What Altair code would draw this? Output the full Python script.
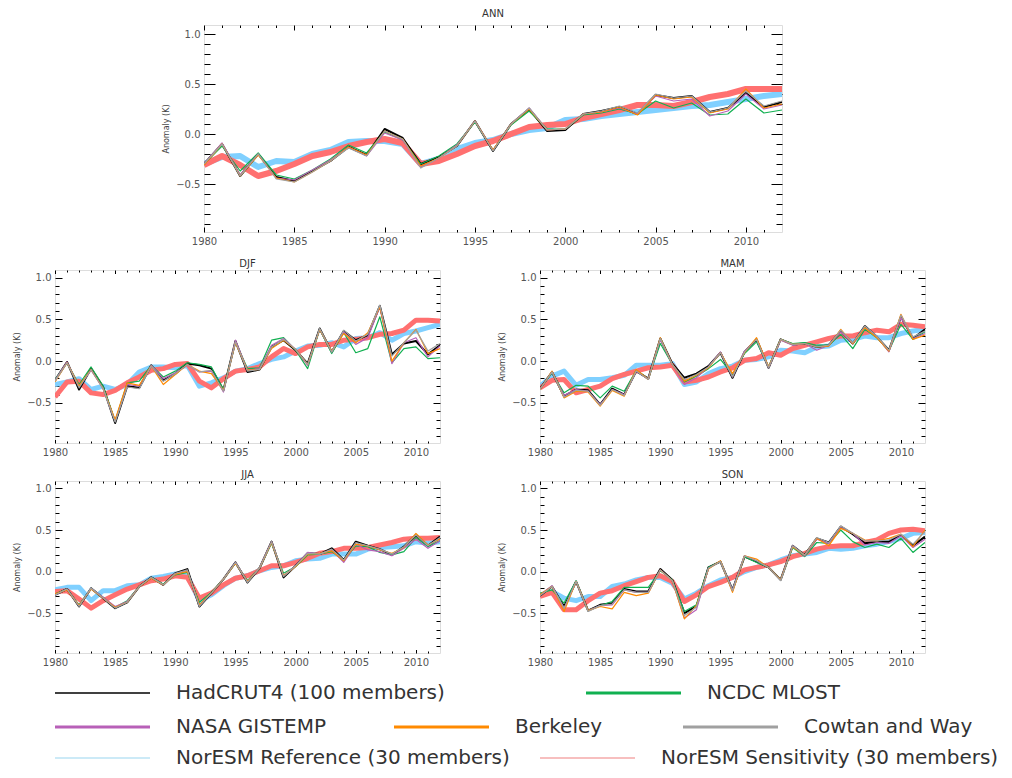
import altair as alt
import pandas as pd

YEARS = list(range(1980, 2013))

# ---------------- ANN ----------------
ANN_HADCRUT4 = [-0.30,-0.10,-0.42,-0.20,-0.43,-0.47,-0.37,-0.27,-0.13,-0.21,0.05,-0.04,-0.30,-0.23,-0.12,0.13,-0.17,0.10,0.25,0.03,0.04,0.20,0.23,0.27,0.20,0.39,0.36,0.38,0.22,0.26,0.41,0.27,0.32]
ANN_NCDC = [-0.30,-0.12,-0.37,-0.19,-0.41,-0.45,-0.36,-0.25,-0.11,-0.19,0.02,-0.06,-0.30,-0.22,-0.10,0.12,-0.16,0.09,0.23,0.05,0.05,0.19,0.21,0.25,0.20,0.33,0.26,0.31,0.19,0.20,0.35,0.21,0.24]
ANN_GISS = [-0.30,-0.09,-0.41,-0.20,-0.44,-0.46,-0.36,-0.26,-0.13,-0.22,0.01,-0.06,-0.33,-0.24,-0.11,0.13,-0.16,0.10,0.26,0.04,0.05,0.20,0.22,0.26,0.20,0.38,0.33,0.35,0.18,0.23,0.40,0.25,0.29]
ANN_BERK = [-0.31,-0.10,-0.42,-0.21,-0.44,-0.48,-0.38,-0.27,-0.13,-0.21,0.03,-0.05,-0.32,-0.24,-0.12,0.13,-0.16,0.10,0.25,0.04,0.05,0.20,0.22,0.27,0.19,0.39,0.35,0.37,0.21,0.25,0.45,0.26,0.30]
ANN_CW = [-0.30,-0.10,-0.42,-0.20,-0.45,-0.48,-0.38,-0.27,-0.14,-0.22,0.03,-0.05,-0.34,-0.24,-0.12,0.13,-0.17,0.10,0.26,0.04,0.05,0.20,0.23,0.28,0.21,0.40,0.36,0.38,0.22,0.26,0.43,0.28,0.33]
ANN_REF = [-0.30,-0.23,-0.22,-0.33,-0.27,-0.28,-0.20,-0.16,-0.08,-0.07,-0.07,-0.10,-0.30,-0.25,-0.15,-0.09,-0.06,0.00,0.04,0.06,0.14,0.15,0.18,0.20,0.22,0.24,0.26,0.28,0.29,0.32,0.35,0.38,0.40]
ANN_SENS = [-0.31,-0.22,-0.31,-0.42,-0.37,-0.30,-0.22,-0.18,-0.12,-0.08,-0.05,-0.09,-0.30,-0.27,-0.20,-0.12,-0.07,0.00,0.07,0.09,0.10,0.16,0.20,0.24,0.29,0.29,0.28,0.32,0.37,0.40,0.45,0.45,0.45]

# ---------------- DJF ----------------
DJF_HADCRUT4 = [-0.23,-0.01,-0.34,-0.09,-0.31,-0.74,-0.30,-0.32,-0.05,-0.23,-0.15,-0.03,-0.05,-0.09,-0.35,0.24,-0.13,-0.10,0.17,0.25,0.13,-0.03,0.39,0.11,0.36,0.25,0.31,0.66,0.08,0.21,0.24,0.08,0.19]
DJF_NCDC = [-0.22,-0.02,-0.28,-0.07,-0.30,-0.72,-0.26,-0.24,-0.05,-0.19,-0.12,-0.02,-0.04,-0.07,-0.34,0.23,-0.09,-0.08,0.25,0.28,0.13,-0.09,0.38,0.09,0.34,0.10,0.15,0.53,-0.02,0.15,0.17,0.03,0.04]
DJF_GISS = [-0.23,-0.01,-0.30,-0.11,-0.33,-0.72,-0.28,-0.30,-0.05,-0.21,-0.14,-0.05,-0.13,-0.12,-0.37,0.25,-0.11,-0.09,0.19,0.27,0.14,-0.05,0.38,0.11,0.35,0.20,0.28,0.65,-0.03,0.22,0.28,0.05,0.18]
DJF_BERK = [-0.25,-0.02,-0.30,-0.10,-0.33,-0.70,-0.26,-0.29,-0.06,-0.28,-0.16,-0.04,-0.12,-0.15,-0.35,0.22,-0.11,-0.10,0.15,0.25,0.14,-0.04,0.38,0.12,0.33,0.22,0.34,0.65,0.00,0.22,0.38,0.09,0.15]
DJF_CW = [-0.24,-0.02,-0.32,-0.10,-0.33,-0.73,-0.31,-0.33,-0.06,-0.24,-0.15,-0.04,-0.13,-0.11,-0.36,0.23,-0.12,-0.10,0.17,0.26,0.14,-0.04,0.39,0.11,0.37,0.24,0.32,0.67,0.06,0.22,0.37,0.12,0.21]
DJF_REF = [-0.28,-0.25,-0.21,-0.34,-0.30,-0.34,-0.28,-0.13,-0.07,-0.07,-0.08,-0.05,-0.30,-0.26,-0.20,-0.12,-0.09,-0.03,0.02,0.05,0.12,0.18,0.19,0.22,0.17,0.27,0.28,0.34,0.25,0.33,0.36,0.40,0.44]
DJF_SENS = [-0.43,-0.25,-0.24,-0.38,-0.40,-0.35,-0.26,-0.19,-0.11,-0.09,-0.04,-0.03,-0.24,-0.32,-0.21,-0.12,-0.10,-0.07,0.05,0.15,0.09,0.17,0.20,0.20,0.25,0.26,0.28,0.32,0.33,0.37,0.49,0.49,0.48]

# ---------------- MAM ----------------
MAM_HADCRUT4 = [-0.33,-0.13,-0.42,-0.34,-0.35,-0.52,-0.33,-0.40,-0.12,-0.21,0.27,-0.03,-0.20,-0.15,-0.06,0.10,-0.20,0.11,0.26,-0.08,0.26,0.20,0.21,0.17,0.19,0.36,0.21,0.42,0.29,0.13,0.53,0.27,0.38]
MAM_NCDC = [-0.33,-0.14,-0.38,-0.29,-0.30,-0.44,-0.30,-0.36,-0.11,-0.21,0.21,-0.04,-0.25,-0.18,-0.09,0.02,-0.16,0.09,0.23,-0.07,0.26,0.21,0.22,0.19,0.19,0.32,0.15,0.38,0.28,0.12,0.44,0.26,0.35]
MAM_GISS = [-0.33,-0.13,-0.41,-0.34,-0.36,-0.52,-0.34,-0.40,-0.12,-0.21,0.26,-0.04,-0.28,-0.20,-0.07,0.11,-0.19,0.12,0.26,-0.08,0.25,0.19,0.21,0.13,0.19,0.35,0.21,0.40,0.29,0.11,0.52,0.27,0.33]
MAM_BERK = [-0.34,-0.12,-0.44,-0.36,-0.37,-0.54,-0.35,-0.42,-0.10,-0.22,0.28,-0.04,-0.24,-0.17,-0.08,0.10,-0.15,0.10,0.28,-0.07,0.26,0.20,0.21,0.17,0.18,0.38,0.21,0.40,0.28,0.12,0.56,0.26,0.31]
MAM_CW = [-0.34,-0.13,-0.43,-0.35,-0.36,-0.53,-0.34,-0.41,-0.12,-0.22,0.27,-0.04,-0.22,-0.16,-0.07,0.10,-0.19,0.11,0.26,-0.08,0.26,0.20,0.21,0.17,0.19,0.37,0.22,0.42,0.30,0.13,0.55,0.29,0.36]
MAM_REF = [-0.30,-0.18,-0.12,-0.29,-0.22,-0.22,-0.20,-0.17,-0.05,-0.05,-0.05,-0.03,-0.28,-0.25,-0.15,-0.09,-0.06,0.01,0.02,0.05,0.13,0.12,0.10,0.17,0.18,0.25,0.26,0.30,0.28,0.28,0.33,0.36,0.38]
MAM_SENS = [-0.32,-0.23,-0.22,-0.38,-0.34,-0.30,-0.21,-0.16,-0.12,-0.08,-0.07,-0.05,-0.25,-0.23,-0.19,-0.13,-0.08,0.01,0.03,0.10,0.07,0.15,0.19,0.23,0.27,0.30,0.30,0.34,0.37,0.35,0.44,0.43,0.41]

# ---------------- JJA ----------------
JJA_HADCRUT4 = [-0.28,-0.21,-0.42,-0.20,-0.32,-0.44,-0.37,-0.18,-0.07,-0.16,-0.02,0.03,-0.42,-0.26,-0.09,0.11,-0.13,0.04,0.36,-0.07,0.07,0.22,0.21,0.28,0.14,0.36,0.31,0.27,0.20,0.30,0.44,0.31,0.42]
JJA_NCDC = [-0.27,-0.21,-0.40,-0.20,-0.31,-0.43,-0.35,-0.18,-0.07,-0.15,-0.04,-0.01,-0.37,-0.25,-0.09,0.10,-0.11,0.05,0.34,-0.02,0.06,0.20,0.21,0.24,0.13,0.31,0.30,0.23,0.20,0.24,0.41,0.30,0.37]
JJA_GISS = [-0.28,-0.21,-0.41,-0.20,-0.31,-0.42,-0.36,-0.18,-0.07,-0.16,-0.03,0.01,-0.41,-0.26,-0.09,0.11,-0.12,0.05,0.36,-0.05,0.07,0.23,0.21,0.26,0.11,0.33,0.26,0.24,0.19,0.28,0.39,0.28,0.37]
JJA_BERK = [-0.27,-0.22,-0.41,-0.21,-0.32,-0.43,-0.37,-0.18,-0.08,-0.16,-0.03,0.00,-0.40,-0.26,-0.09,0.10,-0.12,0.04,0.35,-0.05,0.06,0.21,0.22,0.25,0.13,0.33,0.31,0.26,0.22,0.29,0.46,0.32,0.39]
JJA_CW = [-0.28,-0.21,-0.42,-0.20,-0.32,-0.44,-0.37,-0.18,-0.07,-0.16,-0.02,0.02,-0.42,-0.26,-0.09,0.11,-0.13,0.04,0.36,-0.06,0.07,0.22,0.21,0.27,0.14,0.35,0.31,0.27,0.21,0.30,0.44,0.31,0.41]
JJA_REF = [-0.22,-0.19,-0.19,-0.35,-0.23,-0.23,-0.17,-0.16,-0.08,-0.06,-0.03,-0.05,-0.35,-0.28,-0.17,-0.08,-0.05,0.01,0.05,0.07,0.13,0.15,0.16,0.21,0.21,0.21,0.27,0.29,0.30,0.31,0.36,0.34,0.36]
JJA_SENS = [-0.24,-0.23,-0.33,-0.44,-0.35,-0.28,-0.21,-0.16,-0.11,-0.09,-0.05,-0.07,-0.32,-0.26,-0.16,-0.08,-0.05,0.01,0.07,0.07,0.11,0.16,0.22,0.24,0.28,0.28,0.29,0.32,0.35,0.39,0.40,0.40,0.41]

# ---------------- SON ----------------
SON_HADCRUT4 = [-0.29,-0.18,-0.42,-0.12,-0.47,-0.40,-0.38,-0.21,-0.24,-0.24,0.03,-0.10,-0.50,-0.42,0.05,0.12,-0.22,0.18,0.12,0.05,-0.10,0.31,0.20,0.40,0.35,0.54,0.45,0.34,0.36,0.36,0.44,0.31,0.42]
SON_NCDC = [-0.26,-0.22,-0.38,-0.11,-0.47,-0.41,-0.36,-0.19,-0.19,-0.19,0.01,-0.10,-0.48,-0.40,0.05,0.12,-0.22,0.18,0.11,0.05,-0.10,0.29,0.18,0.35,0.34,0.50,0.36,0.29,0.33,0.29,0.40,0.23,0.35]
SON_GISS = [-0.28,-0.17,-0.44,-0.12,-0.47,-0.41,-0.40,-0.22,-0.25,-0.25,0.02,-0.11,-0.56,-0.46,0.04,0.12,-0.22,0.19,0.13,0.05,-0.10,0.31,0.19,0.39,0.34,0.53,0.46,0.32,0.35,0.34,0.43,0.29,0.39]
SON_BERK = [-0.28,-0.18,-0.48,-0.12,-0.47,-0.42,-0.45,-0.25,-0.29,-0.26,0.02,-0.11,-0.57,-0.41,0.03,0.13,-0.25,0.19,0.15,0.05,-0.10,0.30,0.20,0.40,0.31,0.52,0.46,0.38,0.37,0.40,0.45,0.30,0.50]
SON_CW = [-0.29,-0.18,-0.44,-0.12,-0.48,-0.41,-0.39,-0.22,-0.25,-0.25,0.02,-0.11,-0.53,-0.43,0.04,0.12,-0.23,0.19,0.13,0.05,-0.11,0.31,0.20,0.41,0.35,0.55,0.46,0.37,0.37,0.38,0.45,0.33,0.48]
SON_REF = [-0.29,-0.24,-0.32,-0.35,-0.30,-0.30,-0.18,-0.15,-0.10,-0.07,-0.07,-0.14,-0.33,-0.26,-0.17,-0.10,-0.07,0.00,0.05,0.08,0.14,0.19,0.21,0.23,0.28,0.27,0.28,0.31,0.33,0.36,0.40,0.46,0.47]
SON_SENS = [-0.30,-0.25,-0.46,-0.46,-0.35,-0.26,-0.23,-0.17,-0.12,-0.07,-0.05,-0.12,-0.36,-0.28,-0.18,-0.13,-0.07,0.02,0.05,0.08,0.12,0.18,0.22,0.27,0.30,0.31,0.31,0.35,0.38,0.46,0.50,0.51,0.49]

SERIES = ["NorESM Reference mean", "NorESM Sensitivity mean", "HadCRUT4", "NCDC MLOST",
          "NASA GISTEMP", "Berkeley", "Cowtan and Way"]

DATA = {
    "ANN": [ANN_REF, ANN_SENS, ANN_HADCRUT4, ANN_NCDC, ANN_GISS, ANN_BERK, ANN_CW],
    "DJF": [DJF_REF, DJF_SENS, DJF_HADCRUT4, DJF_NCDC, DJF_GISS, DJF_BERK, DJF_CW],
    "MAM": [MAM_REF, MAM_SENS, MAM_HADCRUT4, MAM_NCDC, MAM_GISS, MAM_BERK, MAM_CW],
    "JJA": [JJA_REF, JJA_SENS, JJA_HADCRUT4, JJA_NCDC, JJA_GISS, JJA_BERK, JJA_CW],
    "SON": [SON_REF, SON_SENS, SON_HADCRUT4, SON_NCDC, SON_GISS, SON_BERK, SON_CW],
}

LEGEND_LABELS = ["HadCRUT4 (100 members)", "NCDC MLOST", "NASA GISTEMP", "Berkeley",
                 "Cowtan and Way", "NorESM Reference (30 members)", "NorESM Sensitivity (30 members)"]

# ---------------- styling ----------------
FONT = "DejaVu Sans"
C_REF = "#80d0ff"
C_SENS = "#ff7070"
C_HAD = "#000000"
C_NCDC = "#10b050"
C_GISS = "#b860b8"
C_BERK = "#ff8a00"
C_CW = "#a0a0a0"
SERIES_COLORS = [C_REF, C_SENS, C_HAD, C_NCDC, C_GISS, C_BERK, C_CW]
LEGEND_COLORS = [C_HAD, C_NCDC, C_GISS, C_BERK, C_CW, "#9ad6f0", "#f08080"]
LEGEND_WIDTHS = [1.5, 3, 3, 3, 3, 1.2, 1.2]

XMAJ = [1980, 1985, 1990, 1995, 2000, 2005, 2010]
XMIN = [y for y in YEARS[1:-1] if y % 5]
YMAJ = [-0.5, 0.0, 0.5, 1.0]
YMIN = [round(v / 10.0, 1) for v in range(-9, 11) if v % 5]
YDOM = [-0.98, 1.09]


def make_axis(orient, values, size, labels, title=None):
    kw = dict(orient=orient, values=values, tickSize=size, offset=-size, domain=False,
              grid=False, labels=labels, tickColor="black", tickWidth=1, title=title)
    if labels:
        kw.update(labelFont=FONT, labelFontSize=10, labelColor="#555555", labelPadding=4,
                  labelFlush=False, labelOverlap=False,
                  format="d" if orient in ("bottom", "top") else ".1f")
    else:
        kw.update(minExtent=0, maxExtent=0)
    if title:
        kw.update(titleFont=FONT, titleFontSize=8, titleColor="#444444",
                  titleFontWeight="normal", titlePadding=5)
    return alt.Axis(**kw)


def panel(season, w, h, big):
    rows = []
    for name, vals in zip(SERIES, DATA[season]):
        for yr, v in zip(YEARS, vals):
            rows.append({"year": yr, "series": name, "value": v})
    df = pd.DataFrame(rows)
    xs = alt.Scale(domain=[1980, 2012], nice=False, zero=False)
    ys = alt.Scale(domain=YDOM, nice=False, zero=False)
    ty_maj, ty_min = (11, 6) if big else (7, 4)
    tx_maj, tx_min = (5, 2.5) if big else (3.5, 2)
    axes = [
        (make_axis("bottom", XMAJ, tx_maj, True), make_axis("left", YMAJ, ty_maj, True, "Anomaly (K)")),
        (make_axis("top", XMAJ, tx_maj, False), make_axis("right", YMAJ, ty_maj, False)),
        (make_axis("bottom", XMIN, tx_min, False), make_axis("left", YMIN, ty_min, False)),
        (make_axis("top", XMIN, tx_min, False), make_axis("right", YMIN, ty_min, False)),
    ]
    thick = 6 if big else 5
    widths = [thick, thick, 2.0, 1.2, 1.2, 1.2, 1.2]
    layers = []
    for i, name in enumerate(SERIES):
        if i < len(axes):
            xa, ya = axes[i]
            xenc = alt.X("year:Q", scale=xs, axis=xa)
            yenc = alt.Y("value:Q", scale=ys, axis=ya)
        else:
            xenc = alt.X("year:Q", scale=xs, axis=None)
            yenc = alt.Y("value:Q", scale=ys, axis=None)
        layers.append(
            alt.Chart(df)
            .transform_filter(alt.datum.series == name)
            .mark_line(color=SERIES_COLORS[i], strokeWidth=widths[i], clip=True,
                       strokeJoin="round")
            .encode(x=xenc, y=yenc)
        )
    toff = 6 if big else 1
    return (
        alt.layer(*layers)
        .resolve_axis(x="independent", y="independent")
        .properties(
            width=w, height=h,
            title=alt.TitleParams(season, font=FONT, fontSize=10, fontWeight="normal",
                                  color="#333333", offset=toff, anchor="middle", frame="group"),
        )
    )


# legend layout (pixel positions inside the legend panel, whose origin is the
# left edge of the DJF/JJA plot areas)
LEG_W, LEG_H = 930, 78
leg_x0 = [0, 531, 0, 339, 628, 0, 485]
leg_row = [0, 0, 1, 1, 1, 2, 2]
ROW_Y = [13, 47, 78]
leg_df = pd.DataFrame({
    "label": LEGEND_LABELS,
    "color": LEGEND_COLORS,
    "sw": LEGEND_WIDTHS,
    "x0": leg_x0,
    "x1": [v + 95 for v in leg_x0],
    "tx": [v + 121 for v in leg_x0],
    "y": [ROW_Y[r] for r in leg_row],
})
lx = alt.Scale(domain=[0, LEG_W], nice=False, zero=False)
ly = alt.Scale(domain=[0, LEG_H], nice=False, zero=False, reverse=True)
leg_lines = alt.Chart(leg_df).mark_rule().encode(
    x=alt.X("x0:Q", scale=lx, axis=None), x2="x1:Q",
    y=alt.Y("y:Q", scale=ly, axis=None),
    color=alt.Color("color:N", scale=None),
    strokeWidth=alt.StrokeWidth("sw:Q", scale=None),
)
leg_text = alt.Chart(leg_df).mark_text(
    align="left", baseline="middle", font=FONT, fontSize=20, color="#333333"
).encode(
    x=alt.X("tx:Q", scale=lx, axis=None),
    y=alt.Y("y:Q", scale=ly, axis=None),
    text="label:N",
)
legend = alt.layer(leg_lines, leg_text).properties(
    width=LEG_W, height=LEG_H, view=alt.ViewBackground(stroke="transparent")
)

spacer = alt.Chart(pd.DataFrame({"v": [0]})).mark_point(opacity=0).encode(
    x=alt.value(1), y=alt.value(1)
).properties(width=106, height=10, view=alt.ViewBackground(stroke="transparent"))

top = alt.hconcat(spacer, panel("ANN", 578, 207, True), spacing=0)
row2 = alt.hconcat(panel("DJF", 385, 173, False), panel("MAM", 385, 173, False), spacing=57)
row3 = alt.hconcat(panel("JJA", 385, 172, False), panel("SON", 385, 172, False), spacing=57)

chart = (
    alt.vconcat(top, row2, row3, legend, spacing=11)
    .properties(padding={"left": 5, "top": 0, "right": 0, "bottom": 0})
    .configure_view(stroke="black", strokeWidth=1)
    .configure(background="white")
)

chart.save("out.html", embed_options={"renderer": "svg", "actions": False})
